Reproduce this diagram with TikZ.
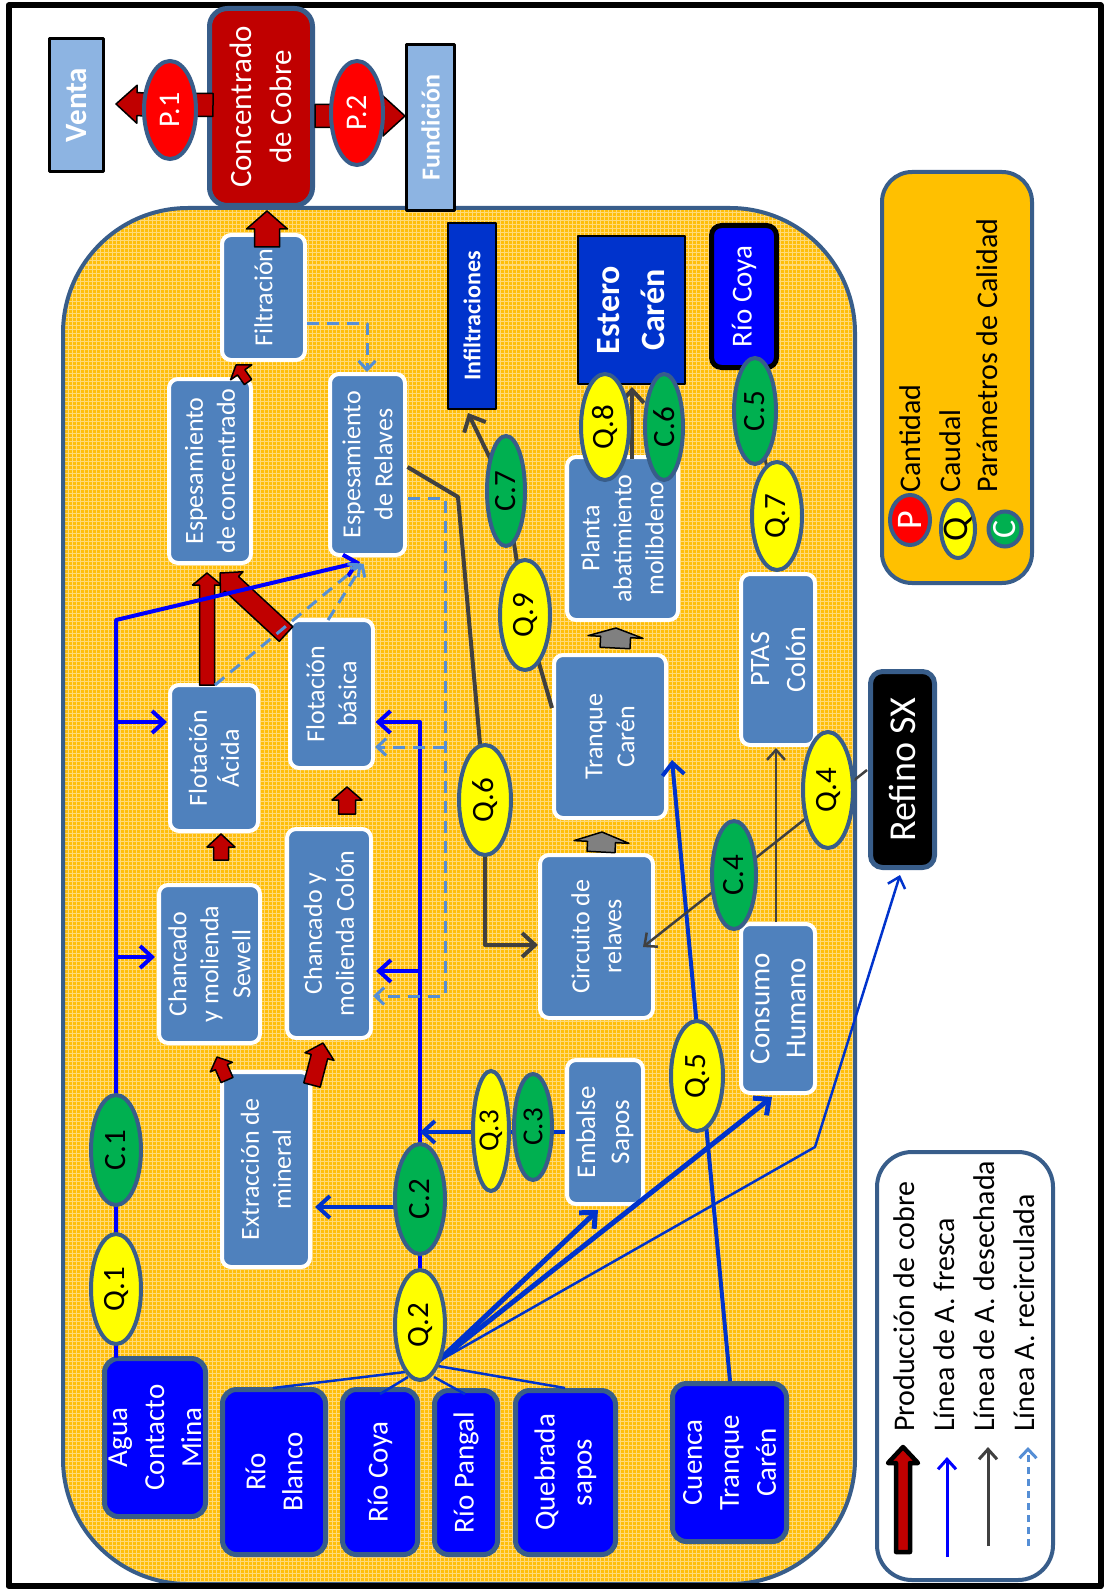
\documentclass[tikz,border=0pt]{standalone}
\usepackage{fontspec}
\setmainfont{Carlito}
\usetikzlibrary{shapes.geometric, arrows.meta, calc}

\definecolor{procblue}{RGB}{79,129,189}
\definecolor{steel}{RGB}{56,93,138}
\definecolor{srcblue}{RGB}{0,0,255}
\definecolor{dstblue}{RGB}{0,51,204}
\definecolor{lightblue}{RGB}{141,180,226}
\definecolor{concred}{RGB}{192,0,0}
\definecolor{pred}{RGB}{255,0,0}
\definecolor{qyellow}{RGB}{255,255,0}
\definecolor{cgreen}{RGB}{0,176,80}
\definecolor{legorange}{RGB}{255,192,0}
\definecolor{wastegray}{RGB}{64,64,64}
\definecolor{recblue}{RGB}{85,142,213}
\definecolor{fresh}{RGB}{0,0,255}
\definecolor{freshdark}{RGB}{0,51,204}
\definecolor{regionbase}{RGB}{255,190,10}
\definecolor{regiongrid}{RGB}{255,218,120}
\definecolor{arrowgray}{RGB}{128,128,128}

\pgfdeclarelayer{top}
\pgfsetlayers{main,top}

% block arrow: style, tail, tip, half shaft width, half head width, head length
\newcommand{\blockarr}[6]{%
  \path #2 coordinate (ba) #3 coordinate (bb);
  \path ($(bb)!#6!(ba)$) coordinate (bh);
  \filldraw[#1] ($(ba)!#4!90:(bb)$) -- ($(bh)!#4!90:(bb)$) -- ($(bh)!#5!90:(bb)$)
    -- (bb) -- ($(bh)!#5!-90:(bb)$) -- ($(bh)!#4!-90:(bb)$) -- ($(ba)!#4!-90:(bb)$) -- cycle;
}

\tikzset{
  proc/.style={rectangle, rounded corners=9pt, fill=procblue, draw=white, line width=4pt,
    text=white, rotate=90, align=center, inner sep=0pt, font=\fontsize{26}{32}\selectfont},
  src/.style={rectangle, rounded corners=14pt, fill=srcblue, draw=steel, line width=5pt,
    text=white, rotate=90, align=center, inner sep=0pt, font=\fontsize{29}{37}\selectfont},
  ell/.style={ellipse, draw=steel, line width=4pt, rotate=90, inner sep=0pt,
    font=\fontsize{31}{31}\selectfont},
  qell/.style={ell, fill=qyellow},
  cell/.style={ell, fill=cgreen},
  pell/.style={ell, fill=pred, text=white, font=\fontsize{30}{30}\selectfont},
  redarrow/.style={fill=concred, draw=black, line width=1.5pt},
  grayarrow/.style={fill=arrowgray, draw=black, line width=1.5pt},
  freshline/.style={draw=fresh, line width=4pt, -{Straight Barb[length=12pt,width=22pt]}},
  freshdarkline/.style={draw=freshdark, line width=4pt, -{Straight Barb[length=12pt,width=22pt]}},
  thinfresh/.style={draw=freshdark, line width=2.5pt},
  wasteline/.style={draw=wastegray, line width=4pt, -{Straight Barb[length=13pt,width=24pt]}},
  wastethin/.style={draw=wastegray, line width=2.5pt, -{Straight Barb[length=10pt,width=18pt]}},
  recline/.style={draw=recblue, line width=3pt, dash pattern=on 12pt off 8pt,
    -{Straight Barb[length=9pt,width=17pt]}},
  legtext/.style={rotate=90, anchor=base west, inner sep=0pt, font=\fontsize{30}{30}\selectfont},
}

\begin{document}
\begin{tikzpicture}[x=1pt, y=-1pt, line join=round]
\useasboundingbox (0,0) rectangle (1107,1589);
\fill[white] (0,0) rectangle (1107,1589);

% plant area with its fine grid
\begin{scope}
  \clip[rounded corners=125pt] (63,208) rectangle (855,1584);
  \fill[regionbase] (63,208) rectangle (855,1584);
  \foreach \gx in {64,68,...,856} \draw[regiongrid, line width=1pt] (\gx,208) -- (\gx,1584);
  \foreach \gy in {209,213,...,1584} \draw[regiongrid, line width=1pt] (63,\gy) -- (855,\gy);
\end{scope}
\draw[steel, line width=4pt, rounded corners=125pt] (63,208) rectangle (855,1584);

% outer frame
\draw[black, line width=6pt] (8.5,5.5) rectangle (1100.5,1586);

% process units
\node[proc, minimum width=125pt, minimum height=83pt] (filt) at (263.5,297.5) {Filtración};
\node[proc, minimum width=184pt, minimum height=82pt] (espc) at (210,471) {Espesamiento\\de concentrado};
\node[proc, minimum width=181pt, minimum height=75pt] (espr) at (367.5,464.5) {Espesamiento\\de Relaves};
\node[proc, minimum width=146pt, minimum height=88pt] (flota) at (214,758) {Flotación\\Ácida};
\node[proc, minimum width=148pt, minimum height=83pt] (flotb) at (331.5,694) {Flotación\\básica};
\node[proc, minimum width=158pt, minimum height=101pt] (chs) at (209.5,964) {Chancado\\y molienda\\Sewell};
\node[proc, minimum width=209pt, minimum height=84pt] (chc) at (329,933.5) {Chancado y\\molienda Colón};
\node[proc, minimum width=195pt, minimum height=88pt] (extr) at (266,1169.5) {Extracción de\\mineral};
\node[proc, minimum width=163pt, minimum height=113pt] (circ) at (596.5,936.5) {Circuito de\\relaves};
\node[proc, minimum width=163pt, minimum height=112pt] (tranq) at (610,736.5) {Tranque\\Carén};
\node[proc, minimum width=163pt, minimum height=111pt] (planta) at (622.5,538.5) {Planta\\abatimiento\\molibdeno};
\node[proc, minimum width=144pt, minimum height=76pt, font=\fontsize{27}{34}\selectfont] (embalse) at (605,1132) {Embalse\\Sapos};
\node[proc, minimum width=169pt, minimum height=74pt, font=\fontsize{29}{36}\selectfont] (consumo) at (778,1008.5) {Consumo\\Humano};
\node[proc, minimum width=171pt, minimum height=74pt, font=\fontsize{28}{36}\selectfont] (ptas) at (778,659.5) {PTAS\\Colón};

% water sources
\node[src, minimum width=158pt, minimum height=101pt] (agua) at (155,1437.5) {Agua\\Contacto\\Mina};
\node[src, minimum width=165pt, minimum height=103pt] (rblanco) at (274,1472) {Río\\Blanco};
\node[src, minimum width=165pt, minimum height=75pt] (rcoya) at (380,1472) {Río Coya};
\node[src, minimum width=164pt, minimum height=63pt] (rpangal) at (466,1472.5) {Río Pangal};
\node[src, minimum width=164pt, minimum height=100pt] (qsapos) at (565.5,1472.5) {Quebrada\\sapos};
\node[src, minimum width=158pt, minimum height=114pt] (cuenca) at (729.5,1462.5) {Cuenca\\Tranque\\Carén};

% discharge points
\node[rectangle, fill=dstblue, draw=black, line width=2pt, rotate=90, minimum width=186pt,
  minimum height=48pt, text=white, font=\bfseries\fontsize{24}{24}\selectfont] (infil) at (472,316) {Infiltraciones};
\node[rectangle, fill=dstblue, draw=black, line width=2pt, rotate=90, minimum width=148pt,
  minimum height=107pt, text=white, align=center, font=\bfseries\fontsize{34}{45}\selectfont] (estero) at (631.5,310) {Estero\\Carén};
\node[rectangle, rounded corners=10pt, fill=srcblue, draw=black, line width=5pt, rotate=90,
  minimum width=142pt, minimum height=65pt, text=white, font=\fontsize{29}{29}\selectfont] (rcoya2) at (744,296.5) {Río Coya};

% product destinations
\node[rectangle, fill=lightblue, draw=black, line width=3pt, rotate=90, minimum width=133pt,
  minimum height=54pt, text=white, font=\bfseries\fontsize{31}{31}\selectfont] (venta) at (76.5,105) {Venta};
\node[rectangle, fill=lightblue, draw=black, line width=3pt, rotate=90, minimum width=166pt,
  minimum height=48pt, text=white, font=\bfseries\fontsize{26}{26}\selectfont] (fund) at (430.5,127.5) {Fundición};
\node[rectangle, rounded corners=18pt, fill=concred, draw=steel, line width=5pt, rotate=90,
  minimum width=197pt, minimum height=103pt, text=white, align=center,
  font=\fontsize{31}{40}\selectfont] (conc) at (261,107) {Concentrado\\de Cobre};
\node[rectangle, rounded corners=12pt, fill=black, draw=steel, line width=5pt, rotate=90,
  minimum width=196pt, minimum height=64pt, text=white, font=\fontsize{38}{38}\selectfont] (refino) at (902.5,769.5) {Refino SX};

% legends
\node[rectangle, rounded corners=35pt, fill=white, draw=steel, line width=4pt,
  minimum width=176pt, minimum height=428pt] (leg1) at (965,1366) {};
\node[rectangle, rounded corners=30pt, fill=legorange, draw=steel, line width=4pt,
  minimum width=150pt, minimum height=411pt] (leg2) at (957,377.5) {};

% measuring points
\begin{pgfonlayer}{top}
\node[pell, minimum width=98pt, minimum height=52pt] (p1) at (170,110) {P.1};
\node[pell, minimum width=104pt, minimum height=52pt] (p2) at (357,113) {P.2};
\node[qell, minimum width=110pt, minimum height=50pt] (q1) at (116,1289) {Q.1};
\node[cell, minimum width=110pt, minimum height=50pt] (c1) at (116,1150) {C.1};
\node[qell, minimum width=110pt, minimum height=50pt] (q2) at (420,1325) {Q.2};
\node[cell, minimum width=110pt, minimum height=50pt] (c2) at (420,1199) {C.2};
\node[qell, minimum width=120pt, minimum height=36pt, font=\fontsize{29}{29}\selectfont] (q3) at (491,1131) {Q.3};
\node[cell, minimum width=106pt, minimum height=38pt, font=\fontsize{29}{29}\selectfont] (c3) at (533,1127) {C.3};
\node[qell, minimum width=116pt, minimum height=50pt] (q4) at (828,790) {Q.4};
\node[cell, minimum width=108pt, minimum height=44pt] (c4) at (734,875) {C.4};
\node[qell, minimum width=110pt, minimum height=52pt] (q5) at (697,1076) {Q.5};
\node[qell, minimum width=110pt, minimum height=52pt] (q6) at (485,800) {Q.6};
\node[qell, minimum width=108pt, minimum height=50pt] (q7) at (777,516) {Q.7};
\node[cell, minimum width=106pt, minimum height=42pt] (c5) at (755,411) {C.5};
\node[qell, minimum width=106pt, minimum height=48pt] (q8) at (605,427) {Q.8};
\node[cell, minimum width=106pt, minimum height=38pt] (c6) at (664,427) {C.6};
\node[qell, minimum width=110pt, minimum height=50pt] (q9) at (525,615) {Q.9};
\node[cell, minimum width=110pt, minimum height=38pt] (c7) at (506,491) {C.7};
% legend markers
\node[ell, fill=pred, minimum width=50pt, minimum height=40pt] (lp) at (910,520) {};
\node[ell, fill=qyellow, minimum width=58pt, minimum height=34pt] (lq) at (958,529) {};
\node[ell, fill=cgreen, minimum width=35pt, minimum height=33pt] (lc) at (1005,529) {};
\node[rotate=90, inner sep=0pt, text=white, font=\fontsize{36}{36}\selectfont] (lpt) at (lp) {P};
\node[rotate=90, inner sep=0pt, font=\fontsize{36}{36}\selectfont] (lqt) at (lq) {Q};
\node[rotate=90, inner sep=0pt, text=white, font=\fontsize{34}{34}\selectfont] (lct) at (lc) {C};
\end{pgfonlayer}

% copper production flow
\blockarr{redarrow}{($(conc)+(-48,-2)$)}{($(venta)+(39.5,-1)$)}{11.5pt}{19pt}{21pt}
\blockarr{redarrow}{($(conc)+(54,9)$)}{($(fund)+(-25.5,-11.5)$)}{11.5pt}{20pt}{22pt}
\blockarr{redarrow}{($(filt)+(3.5,-50.5)$)}{($(conc)+(6,104)$)}{12.5pt}{20.5pt}{18pt}
\blockarr{redarrow}{($(espc)+(38,-89)$)}{($(filt)+(-27.5,67.5)$)}{4.5pt}{13pt}{9pt}
\blockarr{redarrow}{($(flota)+(-7,-73)$)}{($(espc)+(-3,102)$)}{7.5pt}{14.5pt}{12pt}
\blockarr{redarrow}{($(flotb)+(-45.5,-60)$)}{($(espc)+(10,102)$)}{10pt}{16.5pt}{16pt}
\blockarr{redarrow}{($(chs)+(11.5,-104)$)}{($(flota)+(7,76)$)}{7.5pt}{14pt}{13pt}
\blockarr{redarrow}{($(chc)+(18,-119.5)$)}{($(flotb)+(15.5,93)$)}{8.5pt}{15pt}{13pt}
\blockarr{redarrow}{($(extr)+(-39,-89.5)$)}{($(chs)+(7.5,93)$)}{6.5pt}{12pt}{11pt}
\blockarr{redarrow}{($(extr)+(46,-84.5)$)}{($(chc)+(-6,109.5)$)}{8.5pt}{15pt}{14pt}
\blockarr{grayarrow}{($(circ)+(4.5,-84.5)$)}{($(tranq)+(-8,95.5)$)}{14pt}{27.5pt}{10pt}
\blockarr{grayarrow}{($(tranq)+(5,-88.5)$)}{($(planta)+(-6.5,89.5)$)}{15pt}{27.5pt}{9pt}

% fresh water: mine contact water
\coordinate (fj) at (116,620);
\draw[freshline] ($(agua)+(-39,-80)$) -- (fj) -- ($(espr)+(-7.5,97.5)$);
\coordinate (tfa) at ($(flota)+(-47,-36)$);
\draw[freshline] (fj |- tfa) -- (tfa);
\coordinate (tcs) at ($(chs)+(-54.5,-7)$);
\draw[freshline] (fj |- tcs) -- (tcs);

% fresh water: rivers through Q.2 and C.2
\coordinate (sj) at (420,722);
\draw[freshline] (q2.center) -- (c2.center) -- (sj) -- ($(flotb)+(44,28)$);
\coordinate (tcc) at ($(chc)+(47,37.5)$);
\draw[freshline] (sj |- tcc) -- (tcc);
\draw[freshdarkline] ($(c2)+(0,8)$) -- ($(extr)+(49,37.5)$);
\draw[freshdarkline] ($(embalse)+(-40,0)$) -- (sj |- embalse);

\coordinate (qo) at ($(q2)+(17,37)$);
\draw[freshdarkline, line width=5pt] (qo) -- ($(embalse)+(-7,78)$);
\draw[freshdarkline, line width=5pt] (qo) -- ($(consumo)+(-6,88.5)$);
\coordinate (rk) at (815,1147);
\draw[thinfresh, -{Straight Barb[length=10pt,width=18pt]}] (qo) -- (rk) -- ($(refino)+(-2.5,105.5)$);
\draw[thinfresh] ($(rblanco)+(-1,-84)$) -- ($(q2)+(-15,47)$);
\draw[thinfresh] ($(rcoya)+(0,-78)$) -- ($(q2)+(-12,52)$);
\draw[thinfresh] ($(rpangal)+(-1,-78.5)$) -- ($(q2)+(14,52)$);
\draw[thinfresh] ($(qsapos)+(-0.5,-84.5)$) -- ($(q2)+(18,41)$);
\draw[freshdarkline] ($(cuenca)+(0.5,-81.5)$) -- ($(tranq)+(62,23.5)$);

% discarded water
\coordinate (k1) at (458,497);
\coordinate (k2) at (485,945);
\draw[wasteline] ($(espr)+(40,2.5)$) -- (k1) -- (q6.center) -- (k2) -- ($(circ)+(-58.5,8.5)$);
\draw[wastethin] ($(refino)+(-35.5,0.5)$) -- ($(circ)+(46.5,10.5)$);
\draw[wastethin] ($(consumo)+(-2,-86.5)$) -- ($(ptas)+(-2,88.5)$);
\draw[wastethin, line width=3pt] (q7.center) -- (c5.center) -- ($(rcoya2)+(0,75.5)$);
\draw[wasteline] ($(planta)+(9.5,-80)$) -- ($(estero)+(0.5,77)$);
\draw[wasteline] ($(tranq)+(-58,-28.5)$) -- (q9.center) -- (c7.center) -- ($(infil)+(-4,97)$);

% recirculated water
\coordinate (k3) at (367,323);
\draw[recline] ($(filt)+(43.5,25.5)$) -- (k3) -- ($(espr)+(-0.5,-92.5)$);
\coordinate (k4) at (445,498);
\coordinate (k5) at (445,996);
\draw[recline] ($(espr)+(40.5,33.5)$) -- (k4) -- (k5) -- ($(chc)+(44,62.5)$);
\coordinate (tfb) at ($(flotb)+(43.5,53)$);
\draw[recline] (k4 |- tfb) -- (tfb);
\draw[recline] ($(flota)+(1,-73)$) -- ($(espr)+(-6,99)$);
\draw[recline] ($(flotb)+(-3.5,-74)$) -- ($(espr)+(-4,99)$);

% legend of lines
\blockarr{redarrow, line width=4.5pt}{($(leg1)+(-62,186)$)}{($(leg1)+(-62,81)$)}{7pt}{15pt}{16pt}
\draw[fresh, line width=3pt, -{Straight Barb[length=10pt,width=18pt]}] ($(leg1)+(-18,191)$) -- ($(leg1)+(-18,91)$);
\draw[wastegray, line width=3pt, -{Straight Barb[length=10pt,width=18pt]}] ($(leg1)+(23,180)$) -- ($(leg1)+(23,81)$);
\draw[recblue, line width=3pt, dash pattern=on 7pt off 5pt, -{Straight Barb[length=9pt,width=17pt]}] ($(leg1)+(63,180)$) -- ($(leg1)+(63,81)$);
\node[legtext] (lt1) at (914,1432) {Producción de cobre};
\node[legtext] (lt2) at (954,1432) {Línea de A. fresca};
\node[legtext] (lt3) at (994,1432) {Línea de A. desechada};
\node[legtext] (lt4) at (1034,1432) {Línea A. recirculada};

% legend of measuring points
\node[legtext] (lt5) at (920,493) {Cantidad};
\node[legtext] (lt6) at (960,493) {Caudal};
\node[legtext] (lt7) at (997,493) {Parámetros de Calidad};
\end{tikzpicture}
\end{document}
